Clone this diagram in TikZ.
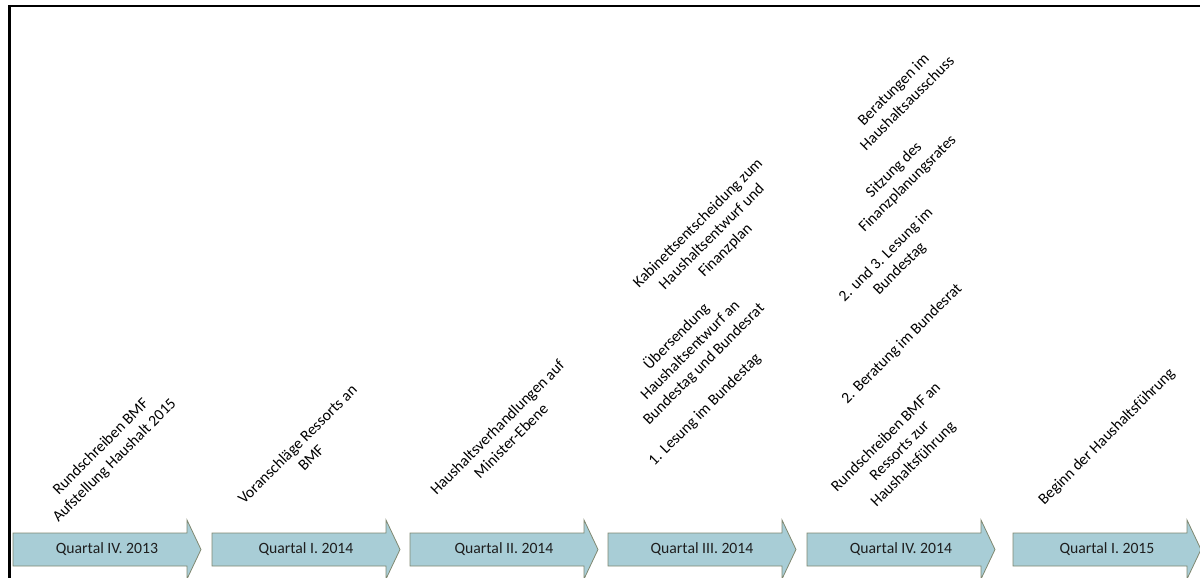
\documentclass[tikz,border=0pt]{standalone}
\usepackage{fontspec}
\setmainfont{Carlito}
\usepackage{tikz}
\usetikzlibrary{positioning}
\definecolor{qfill}{RGB}{168,205,214}
\definecolor{qline}{RGB}{128,136,112}
\definecolor{qtext}{RGB}{30,30,30}

\begin{document}
\begin{tikzpicture}[
    x=1pt, y=-1pt,
    every node/.style={font=\fontsize{15.7}{19.3}\selectfont},
    quarter/.style={draw=qline, fill=qfill, line width=0.8pt, line join=miter},
    qlabel/.style={text=qtext, inner sep=0pt},
    event/.style={rotate=45, align=center, inner sep=0pt}
]
\useasboundingbox (0,0) rectangle (1200,578);

% Frame
\coordinate (fl) at (9.5,580);
\coordinate (fc) at (9.5,6.2);
\coordinate (fr) at (1202,6.2);
\draw[line width=2.3pt] (fl) -- (fc) -- (fr);

% Quarters
\foreach \x/\lbl [count=\i] in {13/{Quartal IV. 2013}, 212/{Quartal I. 2014},
    410/{Quartal II. 2014}, 608/{Quartal III. 2014}, 807/{Quartal IV. 2014},
    1013/{Quartal I. 2015}} {
  \draw[quarter] (\x,533) -- ++(174,0) -- ++(0,-13) -- ++(14,29.5)
      -- ++(-14,29.5) -- ++(0,-13) -- ++(-174,0) -- cycle;
  \node[qlabel] (q\i) at (\x+94,549.5) {\lbl};
}

% Events
\node[event] (e1)  at (108,454)  {Rundschreiben BMF\\Aufstellung Haushalt 2015};
\node[event] (e2)  at (304,451)  {Voranschläge Ressorts an\\BMF};
\node[event] (e3)  at (504,434)  {Haushaltsverhandlungen auf\\Minister-Ebene};
\node[event] (e4)  at (705,410)  {1. Lesung im Bundestag};
\node[event] (e5)  at (690,350)  {Übersendung\\Haushaltsentwurf an\\Bundestag und Bundesrat};
\node[event] (e6)  at (712,237)  {Kabinettsentscheidung zum\\Haushaltsentwurf und\\Finanzplan};
\node[event] (e7)  at (900,451)  {Rundschreiben BMF an\\Ressorts zur\\Haushaltsführung};
\node[event] (e8)  at (902,344)  {2. Beratung im Bundesrat};
\node[event] (e9)  at (893,262)  {2. und 3. Lesung im\\Bundestag};
\node[event] (e10) at (901,177)  {Sitzung des\\Finanzplanungsrates};
\node[event] (e11) at (900,96)   {Beratungen im\\Haushaltsausschuss};
\node[event] (e12) at (1107,437) {Beginn der Haushaltsführung};

\end{tikzpicture}
\end{document}
